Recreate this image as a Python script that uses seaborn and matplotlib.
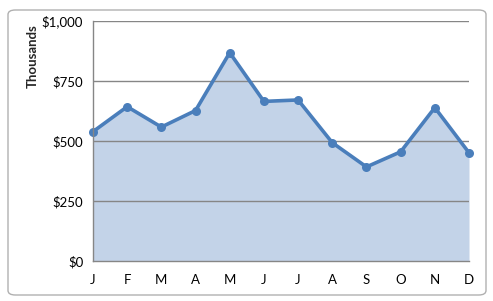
import matplotlib
matplotlib.use("Agg")
import matplotlib.pyplot as plt
import seaborn as sns
import pandas as pd
from matplotlib.patches import FancyBboxPatch

months = ["J", "F", "M", "A", "M", "J", "J", "A", "S", "O", "N", "D"]
values = [539, 643, 558, 627, 868, 665, 671, 493, 392, 455, 639, 451]
y_ticks = [0, 250, 500, 750, 1000]
y_labels = ["$0", "$250", "$500", "$750", "$1,000"]

sns.set_style("white")
plt.rcParams["font.family"] = ["Lato", "DejaVu Sans"]

df = pd.DataFrame({"idx": range(len(months)), "value": values})

fig = plt.figure(figsize=(4.93, 3.01), dpi=100)
fig.patch.set_facecolor("white")

# chart frame
frame = FancyBboxPatch((8 / 493, 6 / 301), 478 / 493, 285 / 301,
                       boxstyle="round,pad=0,rounding_size=0.015",
                       transform=fig.transFigure, facecolor="none",
                       edgecolor="#b0b0b0", linewidth=1.0, zorder=-1)
fig.patches.append(frame)

ax = fig.add_axes([93 / 493, 40 / 301, 376 / 493, 240 / 301])
ax.set_facecolor("none")

line_color = "#4A7EBB"
fill_color = "#C3D3E8"

ax.fill_between(df["idx"], 0, df["value"], color=fill_color, linewidth=0, zorder=1)
sns.lineplot(data=df, x="idx", y="value", ax=ax, color=line_color, linewidth=2.6,
             marker="o", markersize=6.5, markeredgewidth=0, zorder=3)
for ln in ax.lines:
    ln.set_clip_on(False)

ax.set_xlim(0, len(months) - 1)
ax.set_ylim(0, 1000)
ax.set_yticks(y_ticks)
ax.set_yticklabels(y_labels)
ax.set_xticks(range(len(months)))
ax.set_xticklabels(months)

for y in y_ticks[1:]:
    ax.axhline(y, color="#868686", linewidth=1.0, zorder=2)

for side in ["top", "right"]:
    ax.spines[side].set_visible(False)
for side in ["left", "bottom"]:
    ax.spines[side].set_color("#868686")
    ax.spines[side].set_linewidth(1.0)
    ax.spines[side].set_zorder(4)

ax.tick_params(axis="both", which="both", direction="out", length=4, width=1.0,
               color="#868686", labelsize=9.5, labelcolor="black")
ax.tick_params(axis="y", pad=3)
ax.tick_params(axis="x", pad=5)

ax.set_xlabel("")
ax.set_ylabel("Thousands", fontsize=9.5, fontweight="bold")
ax.yaxis.set_label_coords(-0.145, 0.855)

fig.savefig("out.png", dpi=100)
